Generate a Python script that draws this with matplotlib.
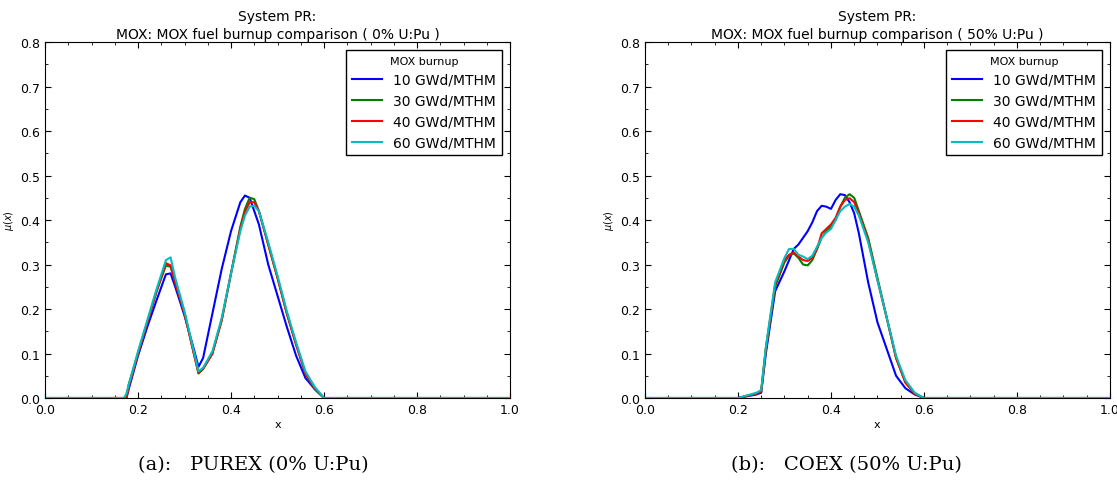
import matplotlib
matplotlib.use("Agg")
import matplotlib.pyplot as plt
from matplotlib.ticker import MultipleLocator

# burnup series labels and colours
labels = ["10 GWd/MTHM", "30 GWd/MTHM", "40 GWd/MTHM", "60 GWd/MTHM"]
colors = ["b", "g", "r", "c"]

# (a) PUREX 0% U:Pu
x_a = [0.0, 0.17, 0.175, 0.18, 0.20, 0.22, 0.24, 0.26, 0.27, 0.28, 0.30, 0.32, 0.33,
       0.34, 0.36, 0.38, 0.40, 0.42, 0.43, 0.44, 0.45, 0.46, 0.48, 0.50, 0.52, 0.54,
       0.56, 0.58, 0.60, 1.0]
a_10 = [0.0, 0.0, 0.0, 0.02, 0.095, 0.16, 0.22, 0.278, 0.28, 0.25, 0.185, 0.11, 0.07,
        0.09, 0.19, 0.29, 0.375, 0.44, 0.455, 0.45, 0.42, 0.39, 0.30, 0.23, 0.16, 0.095,
        0.045, 0.02, 0.0, 0.0]
a_30 = [0.0, 0.0, 0.0, 0.03, 0.10, 0.17, 0.24, 0.298, 0.295, 0.26, 0.19, 0.10, 0.055,
        0.065, 0.10, 0.175, 0.28, 0.385, 0.425, 0.45, 0.447, 0.42, 0.345, 0.27, 0.19, 0.12,
        0.055, 0.02, 0.0, 0.0]
a_40 = [0.0, 0.0, 0.0, 0.025, 0.10, 0.17, 0.24, 0.303, 0.298, 0.26, 0.19, 0.10, 0.057,
        0.066, 0.10, 0.175, 0.28, 0.38, 0.418, 0.44, 0.44, 0.42, 0.345, 0.27, 0.19, 0.12,
        0.055, 0.022, 0.0, 0.0]
a_60 = [0.0, 0.0, 0.01, 0.03, 0.105, 0.175, 0.245, 0.31, 0.316, 0.27, 0.195, 0.105, 0.06,
        0.068, 0.105, 0.18, 0.28, 0.375, 0.41, 0.43, 0.432, 0.42, 0.35, 0.275, 0.195, 0.125,
        0.06, 0.025, 0.0, 0.0]

# (b) COEX 50% U:Pu
x_b = [0.0, 0.20, 0.24, 0.25, 0.26, 0.28, 0.30, 0.31, 0.32, 0.33, 0.34, 0.35, 0.36,
       0.37, 0.38, 0.39, 0.40, 0.41, 0.42, 0.43, 0.44, 0.45, 0.46, 0.48, 0.50, 0.52,
       0.54, 0.56, 0.58, 0.60, 1.0]
b_10 = [0.0, 0.0, 0.008, 0.012, 0.10, 0.24, 0.285, 0.31, 0.335, 0.345, 0.36, 0.375, 0.395,
        0.42, 0.432, 0.43, 0.425, 0.445, 0.458, 0.456, 0.44, 0.415, 0.37, 0.26, 0.17, 0.11,
        0.05, 0.022, 0.008, 0.0, 0.0]
b_30 = [0.0, 0.0, 0.01, 0.015, 0.11, 0.25, 0.305, 0.32, 0.325, 0.315, 0.30, 0.298, 0.31,
        0.335, 0.36, 0.375, 0.385, 0.40, 0.43, 0.45, 0.458, 0.45, 0.42, 0.36, 0.27, 0.18,
        0.09, 0.035, 0.01, 0.0, 0.0]
b_40 = [0.0, 0.0, 0.01, 0.015, 0.11, 0.255, 0.31, 0.322, 0.327, 0.318, 0.31, 0.308, 0.315,
        0.335, 0.37, 0.38, 0.39, 0.405, 0.43, 0.445, 0.449, 0.44, 0.415, 0.355, 0.265, 0.18,
        0.09, 0.035, 0.01, 0.0, 0.0]
b_60 = [0.0, 0.0, 0.012, 0.018, 0.115, 0.26, 0.315, 0.335, 0.335, 0.322, 0.318, 0.312, 0.32,
        0.34, 0.36, 0.372, 0.38, 0.4, 0.42, 0.43, 0.436, 0.43, 0.41, 0.35, 0.265, 0.18,
        0.095, 0.04, 0.012, 0.0, 0.0]

panels = [
    (x_a, [a_10, a_30, a_40, a_60], "0%", "(a):   PUREX (0% U:Pu)"),
    (x_b, [b_10, b_30, b_40, b_60], "50%", "(b):   COEX (50% U:Pu)"),
]

fig = plt.figure(figsize=(11.17, 4.85), dpi=100)
lefts = [0.0403, 0.5774]
caption_x = [0.2265, 0.758]

for left, cx, (xs, series, frac, caption) in zip(lefts, caption_x, panels):
    ax = fig.add_axes([left, 0.1773, 0.4163, 0.734])
    for ys, lab, c in zip(series, labels, colors):
        ax.plot(xs, ys, color=c, lw=1.5, label=lab)
    ax.set_xlim(0, 1)
    ax.set_ylim(0, 0.8)
    ax.xaxis.set_major_locator(MultipleLocator(0.2))
    ax.xaxis.set_minor_locator(MultipleLocator(0.05))
    ax.yaxis.set_major_locator(MultipleLocator(0.1))
    ax.yaxis.set_minor_locator(MultipleLocator(0.05))
    ax.tick_params(which="both", direction="in", top=True, right=True, labelsize=9)
    ax.tick_params(which="major", length=4)
    ax.tick_params(which="minor", length=2)
    ax.set_xlabel("x", fontsize=8, labelpad=2)
    ax.set_ylabel(r"$\mu(x)$", fontsize=7, labelpad=3)
    ax.set_title("System PR:\nMOX: MOX fuel burnup comparison ( %s U:Pu )" % frac,
                 fontsize=10, pad=3, linespacing=1.35)
    leg = ax.legend(title="MOX burnup", loc="upper right", fontsize=10,
                    title_fontsize=8, fancybox=False, framealpha=1,
                    handlelength=2.2, borderaxespad=0.6)
    leg.get_frame().set_edgecolor("black")
    fig.text(cx, 0.041, caption, ha="center", va="center",
             fontsize=14, family="DejaVu Serif")

fig.savefig("out.png", dpi=100)
